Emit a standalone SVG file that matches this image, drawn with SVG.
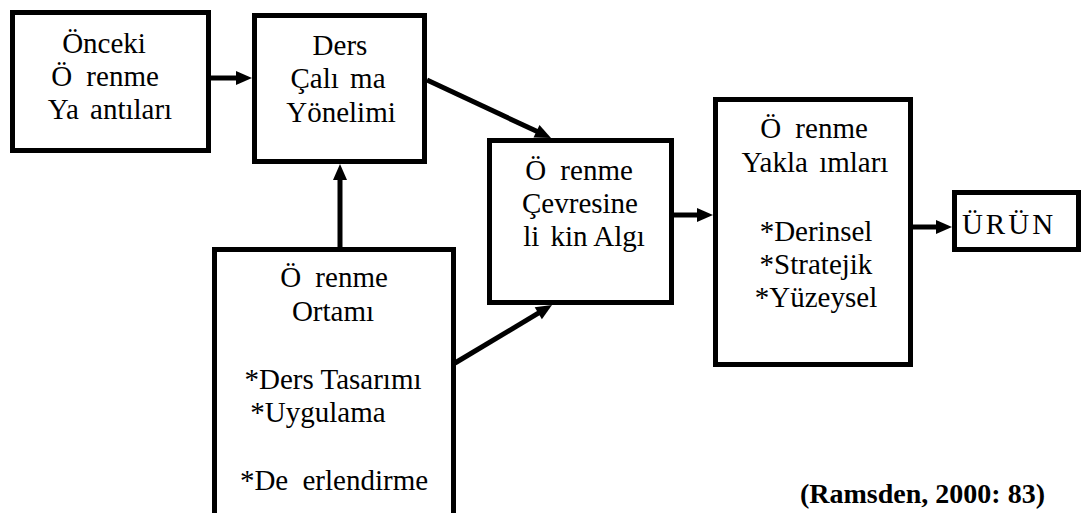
<svg xmlns="http://www.w3.org/2000/svg" width="1082" height="513" viewBox="0 0 1082 513">
  <rect width="1082" height="513" fill="#ffffff"/>
  <g id="connectors">
    <g stroke="#000000" stroke-width="5" fill="none">
      <line x1="211" y1="78" x2="238" y2="78"/>
      <line x1="427" y1="80" x2="538.3" y2="132.1"/>
      <line x1="340" y1="247" x2="340" y2="178"/>
      <line x1="455" y1="363" x2="540" y2="312.2"/>
      <line x1="674" y1="215" x2="699" y2="215"/>
      <line x1="913" y1="227" x2="938" y2="227"/>
    </g>
    <g fill="#000000">
      <polygon points="252,78 236,71 236,85"/>
      <polygon points="551,138 533.5,137.6 539.5,124.9"/>
      <polygon points="340,164 333,180 347,180"/>
      <polygon points="552,305 541.9,319.2 534.7,307.2"/>
      <polygon points="713,215 697,208 697,222"/>
      <polygon points="952,227 936,220 936,234"/>
    </g>
  </g>
  <g fill="#ffffff" stroke="#000000" stroke-width="5">
    <rect id="node-onceki" x="12.5" y="12.5" width="196" height="138"/>
    <rect id="node-ders" x="254.5" y="15.5" width="170" height="146"/>
    <rect id="node-algi" x="489.5" y="140.5" width="182" height="162"/>
    <rect id="node-yaklasim" x="715.5" y="99.5" width="195" height="265"/>
    <rect id="node-urun" x="954.5" y="192.5" width="124" height="57"/>
    <path id="node-ortam" d="M214.5,520 L214.5,249.5 L453.5,249.5 L453.5,520"/>
  </g>
  <g font-family="Liberation Serif" font-size="29" fill="#000000" text-anchor="middle">
    <g id="label-onceki">
      <text font-family="Liberation Serif" style="font-family:'Liberation Serif',serif" x="104" y="53">Önceki</text>
      <text font-family="Liberation Serif" style="font-family:'Liberation Serif',serif" x="105" y="86">Ö <tspan dx="7">renme</tspan></text>
      <text font-family="Liberation Serif" style="font-family:'Liberation Serif',serif" x="110" y="119">Ya <tspan dx="4">antıları</tspan></text>
    </g>
    <g id="label-ders">
      <text font-family="Liberation Serif" style="font-family:'Liberation Serif',serif" x="340" y="55">Ders</text>
      <text font-family="Liberation Serif" style="font-family:'Liberation Serif',serif" x="338" y="88">Çalı <tspan dx="4">ma</tspan></text>
      <text font-family="Liberation Serif" style="font-family:'Liberation Serif',serif" x="341" y="122">Yönelimi</text>
    </g>
    <g id="label-algi">
      <text font-family="Liberation Serif" style="font-family:'Liberation Serif',serif" x="579" y="180">Ö <tspan dx="7">renme</tspan></text>
      <text font-family="Liberation Serif" style="font-family:'Liberation Serif',serif" x="580" y="213">Çevresine</text>
      <text font-family="Liberation Serif" style="font-family:'Liberation Serif',serif" x="584" y="246">li <tspan dx="4">kin Algı</tspan></text>
    </g>
    <g id="label-yaklasim">
      <text font-family="Liberation Serif" style="font-family:'Liberation Serif',serif" x="814" y="138">Ö <tspan dx="7">renme</tspan></text>
      <text font-family="Liberation Serif" style="font-family:'Liberation Serif',serif" x="815" y="172">Yakla <tspan dx="4">ımları</tspan></text>
      <text font-family="Liberation Serif" style="font-family:'Liberation Serif',serif" x="816" y="241">*Derinsel</text>
      <text font-family="Liberation Serif" style="font-family:'Liberation Serif',serif" x="816" y="274">*Stratejik</text>
      <text font-family="Liberation Serif" style="font-family:'Liberation Serif',serif" x="816" y="307">*Yüzeysel</text>
    </g>
    <g id="label-urun">
      <text font-family="Liberation Serif" style="font-family:'Liberation Serif',serif" x="1009" y="234" letter-spacing="3">ÜRÜN</text>
    </g>
    <g id="label-ortam">
      <text font-family="Liberation Serif" style="font-family:'Liberation Serif',serif" x="334" y="287">Ö <tspan dx="7">renme</tspan></text>
      <text font-family="Liberation Serif" style="font-family:'Liberation Serif',serif" x="333" y="321">Ortamı</text>
      <text font-family="Liberation Serif" style="font-family:'Liberation Serif',serif" x="333" y="389">*Ders Tasarımı</text>
      <text font-family="Liberation Serif" style="font-family:'Liberation Serif',serif" x="318" y="422">*Uygulama</text>
      <text font-family="Liberation Serif" style="font-family:'Liberation Serif',serif" x="334" y="490">*De <tspan dx="7">erlendirme</tspan></text>
    </g>
    <text font-family="Liberation Serif" style="font-family:'Liberation Serif',serif" x="1045" y="503" text-anchor="end" font-weight="bold" font-size="28">(Ramsden, 2000: 83)</text>
  </g>
</svg>
